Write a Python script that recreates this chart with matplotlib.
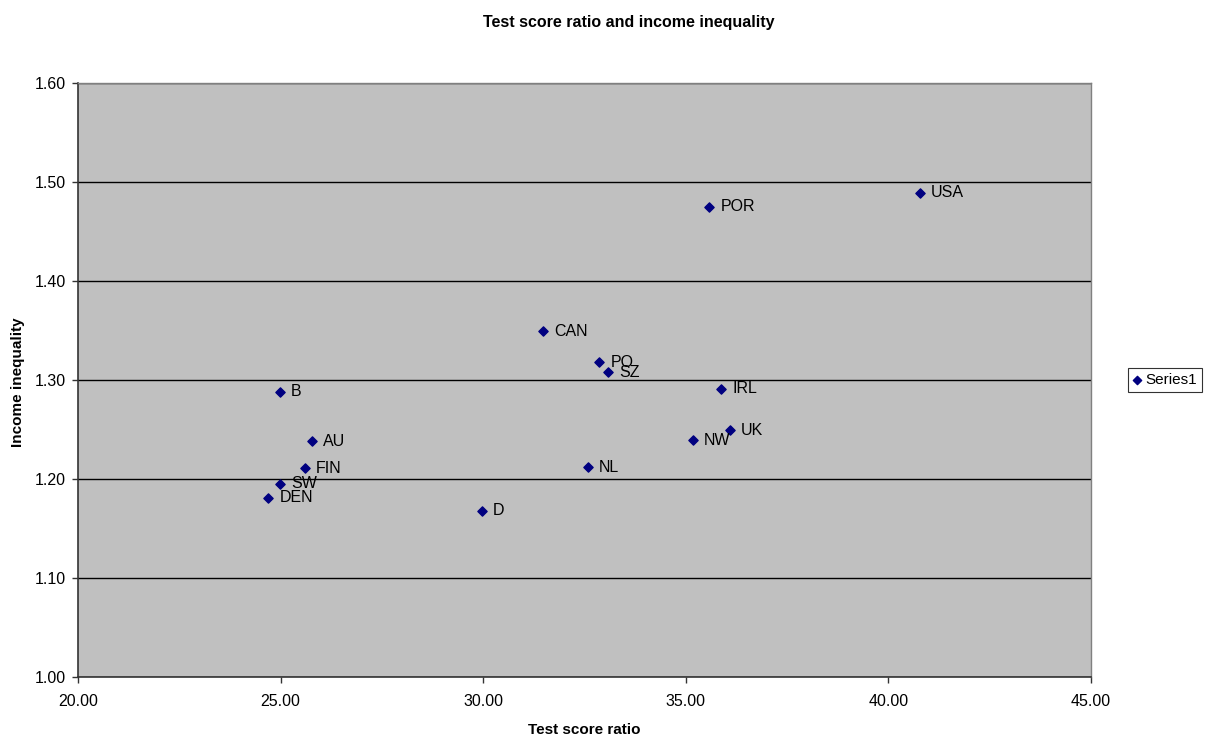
import matplotlib
matplotlib.use("Agg")
import matplotlib.pyplot as plt
from matplotlib.ticker import FormatStrFormatter

plt.rcParams['font.family'] = ['Liberation Sans', 'DejaVu Sans']

# data
countries = ["USA", "POR", "CAN", "PO", "SZ", "IRL", "UK", "NW", "NL",
             "B", "AU", "FIN", "SW", "DEN", "D"]
test_ratio = [40.77, 35.58, 31.48, 32.87, 33.08, 35.88, 36.08, 35.18, 32.58,
              24.98, 25.78, 25.59, 24.98, 24.70, 29.97]
income_ineq = [1.489, 1.475, 1.349, 1.318, 1.308, 1.291, 1.249, 1.239, 1.212,
               1.288, 1.238, 1.211, 1.195, 1.181, 1.168]

W, H = 1212, 740
fig = plt.figure(figsize=(W / 100, H / 100), dpi=100)
fig.patch.set_facecolor("white")

# plot area in pixels: left 78, right 1091, top 83, bottom 677
ax = fig.add_axes([78 / W, 1 - 677 / H, (1091 - 78) / W, (677 - 83) / H])
ax.set_facecolor("#C0C0C0")

ax.set_xlim(20, 45)
ax.set_ylim(1.0, 1.6)
ax.set_xticks([20, 25, 30, 35, 40, 45])
ax.set_yticks([1.0, 1.1, 1.2, 1.3, 1.4, 1.5, 1.6])
ax.xaxis.set_major_formatter(FormatStrFormatter("%.2f"))
ax.yaxis.set_major_formatter(FormatStrFormatter("%.2f"))
ax.grid(axis="y", color="black", linewidth=1)
ax.set_axisbelow(True)

for side in ["top", "right"]:
    ax.spines[side].set_color("#808080")
    ax.spines[side].set_linewidth(1)
for side in ["left", "bottom"]:
    ax.spines[side].set_color("#333333")
    ax.spines[side].set_linewidth(1.2)

ax.tick_params(axis="both", labelsize=11.5, direction="out", length=4,
               width=1, color="#333333")
ax.tick_params(axis="x", pad=8)
ax.tick_params(axis="y", pad=5)

ax.scatter(test_ratio, income_ineq, marker="D", s=22, color="#000080",
           zorder=3, label="Series1")

for name, xv, yv in zip(countries, test_ratio, income_ineq):
    ax.annotate(name, (xv, yv), xytext=(8, 0), textcoords="offset points",
                va="center", ha="left", fontsize=11.5, color="black")

fig.text(629 / W, 1 - 23 / H, "Test score ratio and income inequality",
         ha="center", va="center", fontsize=11.5, fontweight="bold")
fig.text(584 / W, 1 - 730 / H, "Test score ratio", ha="center", va="center",
         fontsize=11, fontweight="bold")
fig.text(18 / W, 1 - 382 / H, "Income inequality", ha="center", va="center",
         rotation=90, fontsize=11, fontweight="bold")

leg = fig.legend(loc="center", bbox_to_anchor=(1165 / W, 1 - 380 / H),
                 fontsize=11, frameon=True, fancybox=False, handlelength=0.5,
                 handletextpad=0.3, borderpad=0.35, markerscale=0.9)
leg.get_frame().set_edgecolor("black")
leg.get_frame().set_linewidth(0.8)

fig.savefig("out.png", dpi=100)
